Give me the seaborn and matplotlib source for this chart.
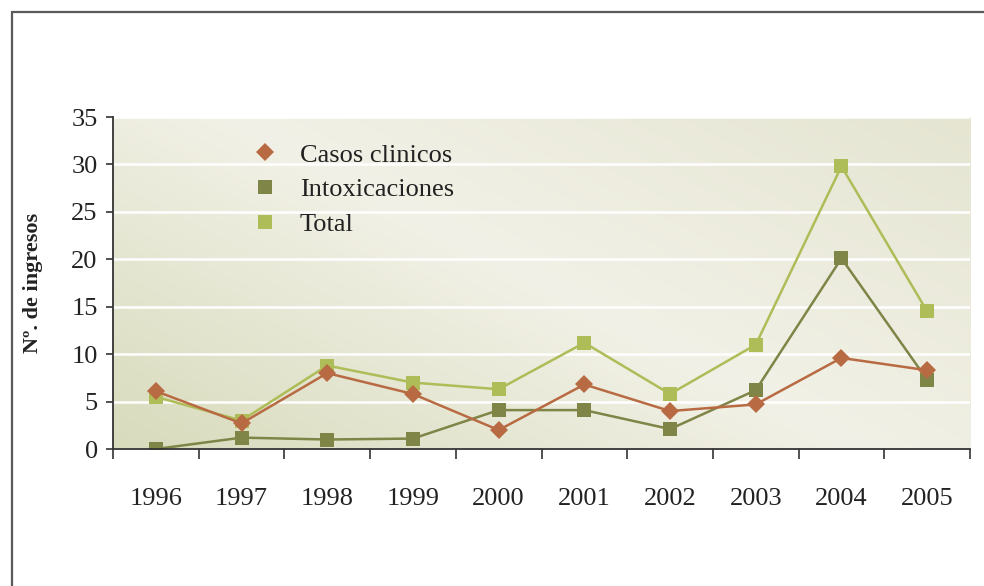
import numpy as np
import pandas as pd
import seaborn as sns
import matplotlib.pyplot as plt
import matplotlib as mpl
from matplotlib.lines import Line2D
from matplotlib.colors import LinearSegmentedColormap

years = ['1996', '1997', '1998', '1999', '2000', '2001', '2002', '2003', '2004', '2005']
casos = [6.1, 2.7, 8.0, 5.8, 2.0, 6.8, 4.0, 4.7, 9.6, 8.3]
intox = [0.0, 1.2, 1.0, 1.1, 4.1, 4.1, 2.1, 6.2, 20.1, 7.3]
total = [5.5, 3.0, 8.8, 7.0, 6.3, 11.2, 5.8, 11.0, 29.8, 14.5]

c_casos = '#B86B42'
c_intox = '#7F8447'
c_total = '#AEBD57'

df = pd.DataFrame({'x': np.arange(len(years)), 'casos': casos, 'intox': intox, 'total': total})

sns.set_style('white')
plt.rcParams['font.family'] = ['Liberation Serif', 'DejaVu Serif']

fig = plt.figure(figsize=(9.84, 5.86), dpi=100)
ax = fig.add_axes([113 / 984, 1 - 449 / 586, 857 / 984, 332 / 586])

# frame around the figure (right and bottom sides fall outside the picture)
fig.patches.append(mpl.patches.Rectangle((12 / 984, -0.5), 5, 1.5 - 12 / 586, transform=fig.transFigure,
                                         fill=False, edgecolor='#5a5a5a', lw=1.6))

# gradient background of the plot area
gx, gy = np.meshgrid(np.linspace(0, 1, 200), np.linspace(0, 1, 120))
t = (gx * 0.75 + gy * 0.55) / 1.3
bg_cmap = LinearSegmentedColormap.from_list('bg', [(0, '#D8DBBC'), (0.5, '#F2F1E7'), (1, '#E5E5D2')])
ax.imshow(bg_cmap(t), extent=(-0.5, 9.5, 0, 35), origin='lower', aspect='auto', zorder=0)

ax.set_xlim(-0.5, 9.5)
ax.set_ylim(0, 35)
ax.set_yticks(range(0, 36, 5))
ax.yaxis.grid(True, color='white', lw=1.8, zorder=1)
ax.set_axisbelow(False)

sns.lineplot(data=df, x='x', y='intox', color=c_intox, marker='s', markersize=10, markeredgewidth=0,
             lw=1.8, ax=ax, zorder=3)
sns.lineplot(data=df, x='x', y='total', color=c_total, marker='s', markersize=10, markeredgewidth=0,
             lw=1.8, ax=ax, zorder=4)
sns.lineplot(data=df, x='x', y='casos', color=c_casos, marker='D', markersize=9, markeredgewidth=0,
             lw=1.8, ax=ax, zorder=5)

# category boundaries as ticks, labels in between
ax.set_xticks(np.arange(-0.5, 10, 1))
ax.set_xticklabels([])
ax.set_xticks(np.arange(len(years)), minor=True)
ax.set_xticklabels(years, minor=True)
ax.tick_params(axis='x', which='major', direction='out', length=7, width=1.2, color='#333333', bottom=True)
ax.tick_params(axis='x', which='minor', length=0, pad=28, labelsize=19, labelcolor='#222222')
ax.tick_params(axis='y', direction='out', length=5, width=1.2, color='#333333', pad=6,
               labelsize=19, labelcolor='#222222', left=True)

for s in ['top', 'right']:
    ax.spines[s].set_visible(False)
for s in ['left', 'bottom']:
    ax.spines[s].set_color('#333333')
    ax.spines[s].set_linewidth(1.3)
    ax.spines[s].set_zorder(6)

ax.set_xlabel('')
ax.set_ylabel('Nº. de ingresos', fontsize=16, fontweight='bold', color='#222222')
ax.yaxis.set_label_coords(-70 / 857, 0.5)

handles = [
    Line2D([], [], ls='none', marker='D', markersize=9.5, color=c_casos, markeredgewidth=0),
    Line2D([], [], ls='none', marker='s', markersize=10, color=c_intox, markeredgewidth=0),
    Line2D([], [], ls='none', marker='s', markersize=10, color=c_total, markeredgewidth=0),
]
ax.legend(handles, ['Casos clinicos', 'Intoxicaciones', 'Total'], loc='upper left',
          bbox_to_anchor=(0.15, 0.953), frameon=False, fontsize=19, handlelength=1,
          handletextpad=0.8, labelspacing=0.42, borderaxespad=0, labelcolor='#222222')

fig.savefig('out.png', dpi=100)
